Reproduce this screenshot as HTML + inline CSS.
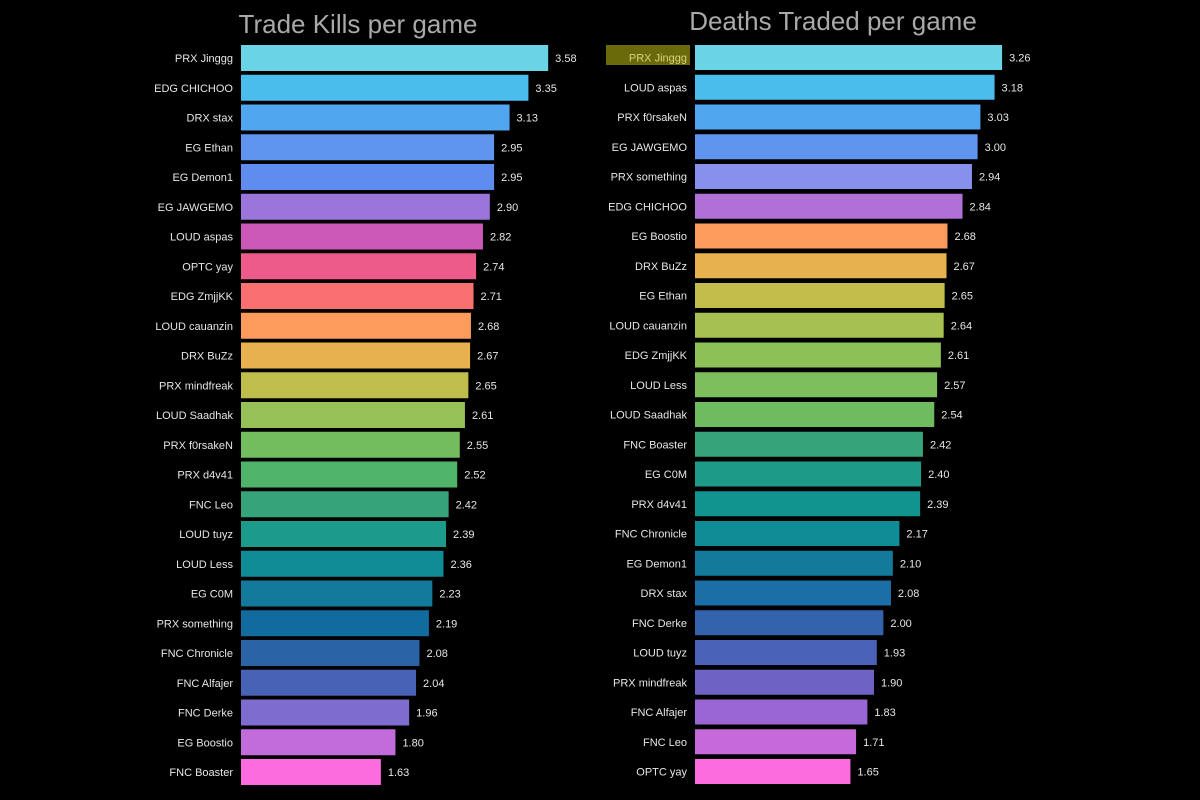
<!DOCTYPE html>
<html><head><meta charset="utf-8"><style>
html,body{margin:0;padding:0;background:#000;}
svg{display:block;}
text{font-family:"Liberation Sans",sans-serif;}
</style></head><body>
<svg id="s" width="1200" height="800" viewBox="0 0 1200 800" xmlns="http://www.w3.org/2000/svg">
<rect width="1200" height="800" fill="#000"/>
<text x="358" y="33" font-size="26" fill="#a9a9a9" text-anchor="middle">Trade Kills per game</text>
<text x="833" y="30" font-size="26" fill="#a9a9a9" text-anchor="middle">Deaths Traded per game</text>
<rect x="606" y="45" width="84" height="20" fill="#6b6a0a"/>
</svg>
<script>
var L=[["PRX Jinggg",3.58,"#6ad4e6"],["EDG CHICHOO",3.35,"#4bbdec"],["DRX stax",3.13,"#50a6ef"],["EG Ethan",2.95,"#5f95ef"],["EG Demon1",2.95,"#5f8cef"],["EG JAWGEMO",2.90,"#9b74dc"],["LOUD aspas",2.82,"#cc58b8"],["OPTC yay",2.74,"#ec5b8a"],["EDG ZmjjKK",2.71,"#fa6f6f"],["LOUD cauanzin",2.68,"#fd9b5c"],["DRX BuZz",2.67,"#e7b24e"],["PRX mindfreak",2.65,"#bfbd4b"],["LOUD Saadhak",2.61,"#95c257"],["PRX f0rsakeN",2.55,"#73bd5e"],["PRX d4v41",2.52,"#50b36a"],["FNC Leo",2.42,"#36a37a"],["LOUD tuyz",2.39,"#1c9a8a"],["LOUD Less",2.36,"#0f8c96"],["EG C0M",2.23,"#137a9c"],["PRX something",2.19,"#126b9f"],["FNC Chronicle",2.08,"#2a63a6"],["FNC Alfajer",2.04,"#4863b6"],["FNC Derke",1.96,"#7f6ccf"],["EG Boostio",1.80,"#c26cdc"],["FNC Boaster",1.63,"#fd6cde"]];
var R=[["PRX Jinggg",3.26,"#6ad4e6"],["LOUD aspas",3.18,"#4bbdec"],["PRX f0rsakeN",3.03,"#50a6ef"],["EG JAWGEMO",3.00,"#5f95ef"],["PRX something",2.94,"#8890ee"],["EDG CHICHOO",2.84,"#b070d8"],["EG Boostio",2.68,"#fd9b5c"],["DRX BuZz",2.67,"#e7b24e"],["EG Ethan",2.65,"#c2bd4b"],["LOUD cauanzin",2.64,"#a7c052"],["EDG ZmjjKK",2.61,"#8dc158"],["LOUD Less",2.57,"#7cbf5c"],["LOUD Saadhak",2.54,"#6fbb60"],["FNC Boaster",2.42,"#36a37a"],["EG C0M",2.40,"#1e9b88"],["PRX d4v41",2.39,"#11938f"],["FNC Chronicle",2.17,"#0f8c96"],["EG Demon1",2.10,"#137a9c"],["DRX stax",2.08,"#1b6ea6"],["FNC Derke",2.00,"#3463ad"],["LOUD tuyz",1.93,"#4a63b8"],["PRX mindfreak",1.90,"#6e62c4"],["FNC Alfajer",1.83,"#9a66d5"],["FNC Leo",1.71,"#c76ad9"],["OPTC yay",1.65,"#fd6cde"]];
var s=document.getElementById("s"),h="";
function draw(D,x0,sc,lx,hgt,sel){D.forEach(function(d,i){var y=45+i*29.75,w=d[1]*sc;
h+='<rect x="'+x0+'" y="'+y+'" width="'+w+'" height="'+hgt+'" fill="'+d[2]+'"/>';
var c=(sel&&i==0)?"#d8d27a":"#e6e6e6";
h+='<text x="'+lx+'" y="'+(y+hgt/2+4)+'" font-size="11" fill="'+c+'" text-anchor="end">'+d[0]+'</text>';
h+='<text x="'+(x0+w+7)+'" y="'+(y+hgt/2+4)+'" font-size="11" fill="#e6e6e6">'+d[1].toFixed(2)+'</text>';});}
draw(L,241,85.8,233,26,false);
draw(R,695,94.2,687,25,true);
s.insertAdjacentHTML("beforeend",h);
</script>
</body></html>
